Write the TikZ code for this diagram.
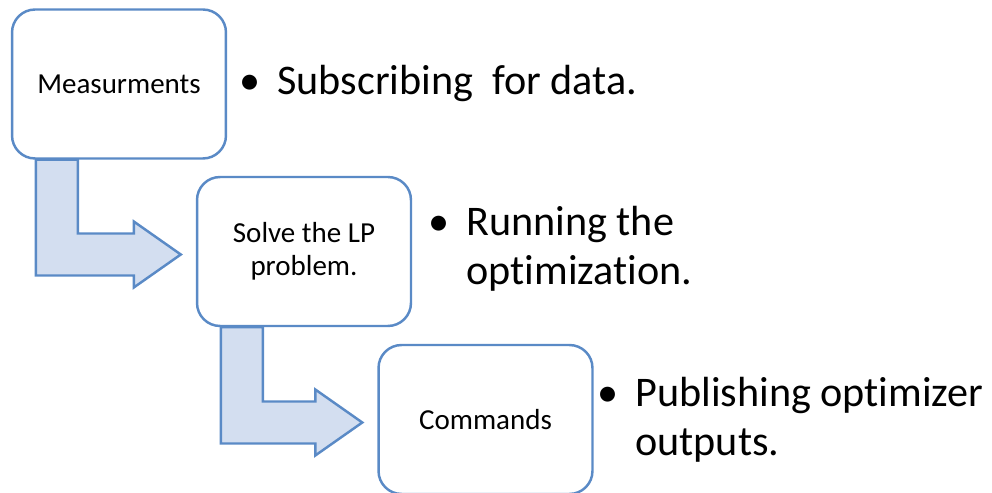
\documentclass[tikz,border=0pt]{standalone}
\usepackage{fontspec}
\setmainfont[RawFeature={-liga;-clig;-dlig;-calt}]{Carlito}
\usetikzlibrary{calc,backgrounds}
\definecolor{boxblue}{HTML}{5A8AC6}
\definecolor{arrowfill}{HTML}{D3DEF0}

\begin{document}
\begin{tikzpicture}[x=0.02cm,y=-0.02cm]
        \tikzset{
          stage/.style={draw=boxblue,line width=1.4pt,fill=white,rounded corners=0.46cm,
            minimum width=4.28cm,minimum height=2.98cm,inner sep=0mm,align=center,
            font=\fontsize{16.5}{18.7}\selectfont},
          bigtext/.style={font=\fontsize{24}{27.8}\selectfont,inner sep=0mm,anchor=base west},
          bent/.style={draw=boxblue,line width=1.4pt,fill=arrowfill,line join=miter}
        }
        \useasboundingbox (0,0) rectangle (992,493);
        %BOXES
        \node[stage] (meas)  at (119,84)    {Measurments};
        \node[stage] (solve) at (304,251.5) {Solve the LP\\problem.};
        \node[stage] (cmd)   at (485.5,419.5) {Commands};

        %BENT ARROWS
        \begin{scope}[on background layer]
        \foreach \a/\b in {meas/solve,solve/cmd}{
            \draw[bent] ($(\a.south west)+(25,0)$) |- ($(\b.west)+(-62,24)$) -- ++(0,12)
                -- ($(\b.west)+(-15,3)$) -- ($(\b.west)+(-62,-30)$) -- ++(0,12)
                -| ($(\a.south west)+(67,0)$) -- cycle;
        }
        \end{scope}

        %BULLETS
        \foreach \bx/\by/\txt [count=\i] in {250/95/{Subscribing\ \ for data.},
            439/236/{Running the\\optimization.},608/407/{Publishing optimizer\\outputs.}}{
            \node[bigtext,anchor=base] (dot\i) at (\bx,\by) {•};
            \node[bigtext] (item\i) at (\bx+27,\by) {\begin{tabular}[t]{@{}l@{}}\txt\end{tabular}};
        }
    \end{tikzpicture}
\end{document}
